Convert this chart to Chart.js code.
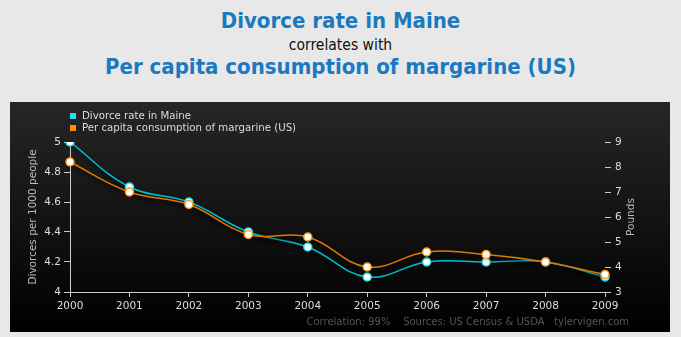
<!DOCTYPE html>
<html>
<head>
<meta charset="utf-8">
<script src="https://cdn.jsdelivr.net/npm/chart.js@4/dist/chart.umd.min.js"></script>
<style>
  html,body{margin:0;padding:0;background:#e8e8e8;width:681px;height:337px;overflow:hidden;}
  .t{position:absolute;left:0;width:681px;text-align:center;font-family:'DejaVu Sans Condensed','DejaVu Sans',sans-serif;font-stretch:condensed;white-space:nowrap;}
  #t1{top:8px;font-size:22px;font-weight:bold;color:#1b79c0;}
  #t2{top:36px;font-size:15.5px;color:#111;}
  #t3{top:54px;font-size:22px;font-weight:bold;color:#1b79c0;}
  #wrap{position:absolute;left:10px;top:102px;width:660px;height:230px;}
</style>
</head>
<body>
<div class="t" id="t1">Divorce rate in Maine</div>
<div class="t" id="t2">correlates with</div>
<div class="t" id="t3">Per capita consumption of margarine (US)</div>
<div id="wrap"><canvas id="c" width="660" height="230"></canvas></div>
<script>
const years = ['2000','2001','2002','2003','2004','2005','2006','2007','2008','2009'];
const divorceRate = [5.0, 4.7, 4.6, 4.4, 4.3, 4.1, 4.2, 4.2, 4.2, 4.1];
const margarine = [8.2, 7.0, 6.5, 5.3, 5.2, 4.0, 4.6, 4.5, 4.2, 3.7];
const seriesNames = ['Divorce rate in Maine', 'Per capita consumption of margarine (US)'];
const leftAxisTitle = 'Divorces per 1000 people';
const rightAxisTitle = 'Pounds';
const footerText = 'Correlation: 99%    Sources: US Census & USDA   tylervigen.com';

const FONT = "'DejaVu Sans', sans-serif";
const cyanLine = '#00bfd0', cyanPt = '#1ee3f0';
const orangeLine = '#e07800', orangePt = '#ff9a1a';

// shadow only under the line paths
const LineEl = Chart.registry.getElement('line');
const origLineDraw = LineEl.prototype.draw;
LineEl.prototype.draw = function (ctx, area) {
  ctx.save();
  ctx.shadowColor = 'rgba(0,0,0,0.9)';
  ctx.shadowBlur = 4;
  ctx.shadowOffsetX = 1;
  ctx.shadowOffsetY = 3;
  origLineDraw.call(this, ctx, area);
  ctx.restore();
};

const decor = {
  id: 'decor',
  beforeDraw(chart) {
    const ctx = chart.ctx, w = chart.width, h = chart.height;
    const g = ctx.createLinearGradient(0, 0, 0, h);
    g.addColorStop(0, '#262626');
    g.addColorStop(1, '#000000');
    ctx.save();
    ctx.fillStyle = g;
    ctx.fillRect(0, 0, w, h);
    ctx.restore();
  },
  afterDraw(chart) {
    const ctx = chart.ctx;
    ctx.save();
    // legend
    const cols = [cyanPt, '#ff8c00'];
    ctx.font = '10.2px ' + FONT;
    ctx.textBaseline = 'middle';
    ctx.textAlign = 'left';
    seriesNames.forEach((n, i) => {
      const y = 14 + i * 12;
      ctx.fillStyle = cols[i];
      ctx.fillRect(60, y - 3, 6, 6);
      ctx.fillStyle = '#dddddd';
      ctx.fillText(n, 72, y);
    });
    // right axis title
    ctx.save();
    ctx.translate(621, (chart.chartArea.top + chart.chartArea.bottom) / 2);
    ctx.rotate(-Math.PI / 2);
    ctx.textAlign = 'center';
    ctx.fillStyle = '#bbbbbb';
    ctx.font = '10.5px ' + FONT;
    ctx.fillText(rightAxisTitle, 0, 0);
    ctx.restore();
    // footer
    ctx.font = '10px ' + FONT;
    ctx.textAlign = 'right';
    ctx.fillStyle = '#555555';
    ctx.fillText(footerText, 619, 220);
    ctx.restore();
  }
};

new Chart(document.getElementById('c'), {
  type: 'line',
  data: {
    labels: years,
    datasets: [
      {
        label: seriesNames[1], data: margarine, yAxisID: 'y1',
        borderColor: orangeLine, borderWidth: 1.5, tension: 0.4,
        pointRadius: 4, pointBackgroundColor: '#ffffff', pointBorderColor: orangePt, pointBorderWidth: 1.5,
        fill: false
      },
      {
        label: seriesNames[0], data: divorceRate, yAxisID: 'y',
        borderColor: cyanLine, borderWidth: 1.5, tension: 0.4,
        pointRadius: 4, pointBackgroundColor: '#ffffff', pointBorderColor: cyanPt, pointBorderWidth: 1.5,
        fill: false
      }
    ]
  },
  options: {
    responsive: false,
    animation: false,
    layout: { padding: { top: 40, left: 0, right: 0, bottom: 0 } },
    plugins: { legend: { display: false }, tooltip: { enabled: false } },
    scales: {
      x: {
        type: 'category', offset: false,
        grid: { display: true, drawOnChartArea: false, drawTicks: true, tickLength: 5, color: '#cccccc' },
        border: { display: true, color: '#cccccc', width: 1 },
        ticks: { color: '#dddddd', font: { size: 10.5, family: FONT }, padding: 3, maxRotation: 0, autoSkip: false },
        afterFit(s) { s.height = 40; }
      },
      y: {
        position: 'left', min: 4, max: 5,
        grid: { display: true, drawOnChartArea: false, drawTicks: true, tickLength: 6, color: '#cccccc' },
        border: { display: true, color: '#cccccc', width: 1 },
        ticks: { stepSize: 0.2, color: '#dddddd', font: { size: 10.5, family: FONT }, padding: 3,
          callback: v => String(Number(v.toFixed(1))) },
        title: { display: true, text: leftAxisTitle, color: '#bbbbbb', font: { size: 10.5, family: FONT }, padding: { top: 17, bottom: 0 } },
        afterFit(s) { s.width = 60; }
      },
      y1: {
        position: 'right', min: 3, max: 9,
        grid: { display: true, drawOnChartArea: false, drawTicks: true, tickLength: 6, color: '#cccccc' },
        border: { display: false },
        ticks: { stepSize: 1, color: '#dddddd', font: { size: 10.5, family: FONT }, padding: 4 },
        afterFit(s) { s.width = 65; }
      }
    }
  },
  plugins: [decor]
});
</script>
</body>
</html>
